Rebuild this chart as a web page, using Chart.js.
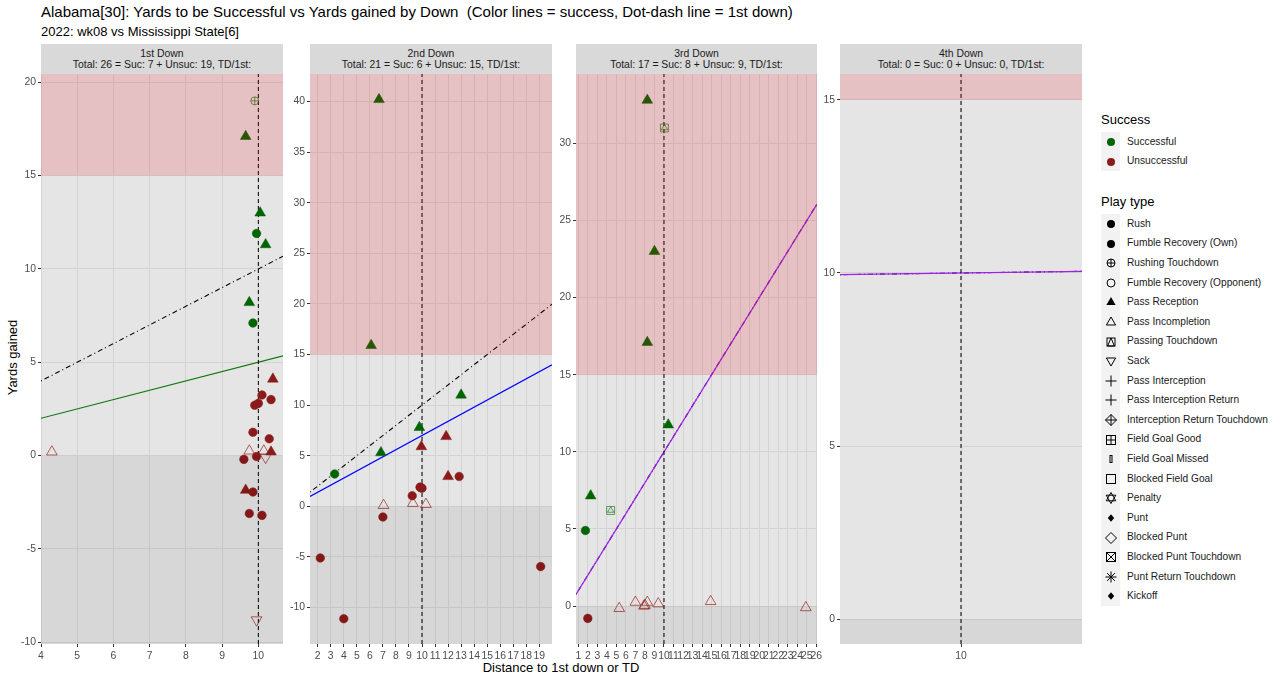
<!DOCTYPE html>
<html>
<head>
<meta charset="utf-8">
<script src="https://cdn.jsdelivr.net/npm/chart.js@4.4.0/dist/chart.umd.min.js"></script>
<style>
  body { margin: 0; background: #fff; font-family: "Liberation Sans", Arial, sans-serif; }
  #page { position: relative; width: 1280px; height: 681px; overflow: hidden; }
  .abs { position: absolute; white-space: nowrap; }
  .strip { background: #d9d9d9; color: #1a1a1a; font-size: 10.4px; line-height: 10.5px; text-align: center; box-sizing: border-box; padding-top: 5px; }
  .lgTitle { font-size: 13px; color: #000; }
  .lgText { font-size: 10.2px; color: #1a1a1a; }
  .lgKey { background: #f2f2f2; }
</style>
</head>
<body>
<div id="page">
  <div class="abs" style="left:41px;top:3px;font-size:15px;color:#000;">Alabama[30]: Yards to be Successful vs Yards gained by Down&nbsp; (Color lines = success, Dot-dash line = 1st down)</div>
  <div class="abs" style="left:41px;top:24px;font-size:13px;color:#000;">2022: wk08 vs Mississippi State[6]</div>
  <div class="abs" style="left:-28px;top:350px;width:80px;text-align:center;font-size:13px;transform:rotate(-90deg);">Yards gained</div>
  <div class="abs" style="left:361px;top:660px;width:400px;text-align:center;font-size:13px;">Distance to 1st down or TD</div>
</div>
<script>
// ---- data ----
const downNames = ['1st Down', '2nd Down', '3rd Down', '4th Down'];
const downTotals = [
  'Total: 26 = Suc: 7 + Unsuc: 19, TD/1st:',
  'Total: 21 = Suc: 6 + Unsuc: 15, TD/1st:',
  'Total: 17 = Suc: 8 + Unsuc: 9, TD/1st:',
  'Total: 0 = Suc: 0 + Unsuc: 0, TD/1st:'
];

// [distance to go, yards gained, successful (1/0), play type]
const plays1st = [
  [9.9, 19.0, 1, 'Rushing Touchdown'],
  [9.65, 17.1, 1, 'Pass Reception'],
  [10.05, 13.0, 1, 'Pass Reception'],
  [9.95, 11.9, 1, 'Rush'],
  [10.2, 11.3, 1, 'Pass Reception'],
  [9.75, 8.2, 1, 'Pass Reception'],
  [9.85, 7.1, 1, 'Rush'],
  [10.4, 4.1, 0, 'Pass Reception'],
  [10.1, 3.25, 0, 'Rush'],
  [10.35, 3.0, 0, 'Rush'],
  [9.9, 2.7, 0, 'Rush'],
  [10.0, 2.8, 0, 'Rush'],
  [9.85, 1.25, 0, 'Rush'],
  [10.3, 0.9, 0, 'Rush'],
  [4.3, 0.2, 0, 'Pass Incompletion'],
  [9.75, 0.25, 0, 'Pass Incompletion'],
  [10.15, 0.25, 0, 'Pass Incompletion'],
  [10.35, 0.2, 0, 'Pass Reception'],
  [10.2, -0.1, 0, 'Sack'],
  [9.6, -0.2, 0, 'Rush'],
  [9.95, -0.05, 0, 'Rush'],
  [9.65, -1.85, 0, 'Pass Reception'],
  [9.85, -1.95, 0, 'Rush'],
  [9.75, -3.1, 0, 'Rush'],
  [10.1, -3.2, 0, 'Rush'],
  [9.95, -8.8, 0, 'Sack']
];
const plays2nd = [
  [6.7, 40.2, 1, 'Pass Reception'],
  [6.1, 15.9, 1, 'Pass Reception'],
  [13.0, 11.0, 1, 'Pass Reception'],
  [9.8, 7.8, 1, 'Pass Reception'],
  [6.85, 5.3, 1, 'Pass Reception'],
  [3.3, 3.2, 1, 'Rush'],
  [11.85, 6.9, 0, 'Pass Reception'],
  [9.95, 5.9, 0, 'Pass Reception'],
  [12.0, 2.95, 0, 'Pass Reception'],
  [12.85, 2.95, 0, 'Rush'],
  [9.25, 1.05, 0, 'Rush'],
  [9.85, 1.9, 0, 'Rush'],
  [10.0, 1.8, 0, 'Rush'],
  [9.9, 1.85, 0, 'Rush'],
  [7.05, 0.1, 0, 'Pass Incompletion'],
  [9.3, 0.3, 0, 'Pass Incompletion'],
  [10.3, 0.2, 0, 'Pass Incompletion'],
  [7.0, -1.05, 0, 'Rush'],
  [2.2, -5.1, 0, 'Rush'],
  [4.0, -11.1, 0, 'Rush'],
  [19.1, -5.95, 0, 'Rush']
];
const plays3rd = [
  [8.25, 32.8, 1, 'Pass Reception'],
  [10.05, 31.0, 1, 'Passing Touchdown'],
  [9.0, 23.0, 1, 'Pass Reception'],
  [8.25, 17.1, 1, 'Pass Reception'],
  [10.45, 11.75, 1, 'Pass Reception'],
  [2.3, 7.15, 1, 'Pass Reception'],
  [4.4, 6.2, 1, 'Passing Touchdown'],
  [1.75, 4.9, 1, 'Rush'],
  [2.0, -0.8, 0, 'Rush'],
  [5.3, -0.15, 0, 'Pass Incompletion'],
  [7.0, 0.25, 0, 'Pass Incompletion'],
  [8.0, 0.05, 0, 'Pass Incompletion'],
  [7.9, 0.0, 0, 'Pass Incompletion'],
  [8.25, 0.25, 0, 'Pass Incompletion'],
  [9.4, 0.15, 0, 'Pass Incompletion'],
  [14.9, 0.3, 0, 'Pass Incompletion'],
  [24.9, -0.1, 0, 'Pass Incompletion']
];
const plays4th = [];

// yards needed = rate * distance
const successRates = [0.5, 0.7, 1.0, 1.0];
const firstDownDistance = 10;
const bigPlayYards = 15;

const xTicks = [
  [4, 5, 6, 7, 8, 9, 10],
  [2, 3, 4, 5, 6, 7, 8, 9, 10, 11, 12, 13, 14, 15, 16, 17, 18, 19],
  [1, 2, 3, 4, 5, 6, 7, 8, 9, 10, 11, 12, 13, 14, 15, 16, 17, 18, 19, 20, 21, 22, 23, 24, 25, 26],
  [10]
];
const yTicks = [
  [-10, -5, 0, 5, 10, 15, 20],
  [-10, -5, 0, 5, 10, 15, 20, 25, 30, 35, 40],
  [0, 5, 10, 15, 20, 25, 30],
  [0, 5, 10, 15]
];
const xLimits = [[4, 10.68], [1.41, 19.97], [0.76, 26.07], [9.952, 10.048]];
const yLimits = [[-10.09, 20.44], [-13.6, 42.72], [-2.46, 34.5], [-0.72, 15.75]];

const legendSuccess = ['Successful', 'Unsuccessful'];
const legendPlayTypes = ['Rush', 'Fumble Recovery (Own)', 'Rushing Touchdown', 'Fumble Recovery (Opponent)',
  'Pass Reception', 'Pass Incompletion', 'Passing Touchdown', 'Sack', 'Pass Interception',
  'Pass Interception Return', 'Interception Return Touchdown', 'Field Goal Good', 'Field Goal Missed',
  'Blocked Field Goal', 'Penalty', 'Punt', 'Blocked Punt', 'Blocked Punt Touchdown',
  'Punt Return Touchdown', 'Kickoff'];
const legendShapes = ['dot', 'dot', 'circlePlus', 'circle', 'tri', 'triOpen', 'squareTri', 'triDown', 'plus',
  'plus', 'diamondPlus', 'squarePlus', 'narrow', 'square', 'star6', 'diamondSmall', 'diamondOpen',
  'squareX', 'asterisk', 'diamondSmall'];

// ---- styling / layout ----
const allPlays = [plays1st, plays2nd, plays3rd, plays4th];
const lineColors = ['#117a11', '#0000ff', '#a020f0', '#a020f0'];
const sucColor = '#006400', unsucColor = '#8b1a1a';
const sucHollow = 'rgba(0,100,0,0.6)', unsucHollow = 'rgba(150,20,20,0.65)';
const panelBoxes = [
  { l: 41, r: 283, t: 74, b: 644 },
  { l: 310, r: 552, t: 74, b: 644 },
  { l: 576, r: 817, t: 74, b: 644 },
  { l: 840, r: 1082, t: 74, b: 644 }
];
const PADL = 45, PADT = 12, PADR = 14, PADB = 30;

const shapeSpec = {
  'Rush': [{ style: 'circle', r: 4.3, fill: true }],
  'Pass Reception': [{ style: 'triangle', r: 6.2, fill: true }],
  'Pass Incompletion': [{ style: 'triangle', r: 6.2, fill: false }],
  'Sack': [{ style: 'triangle', r: 6.2, fill: false, rot: 180 }],
  'Rushing Touchdown': [{ style: 'circle', r: 4, fill: false }, { style: 'cross', r: 4, fill: false }],
  'Passing Touchdown': [{ style: 'rect', r: 5.6, fill: false }, { style: 'triangle', r: 3.6, fill: false }]
};

Chart.defaults.font.family = '"Liberation Sans", Arial, sans-serif';

const bandPlugin = {
  id: 'bands',
  beforeDraw(chart) {
    const { ctx, chartArea: a } = chart;
    ctx.save();
    ctx.fillStyle = '#e5e5e5';
    ctx.fillRect(a.left, a.top, a.width, a.height);
    ctx.restore();
  },
  afterDatasetsDraw(chart) {
    const { ctx, chartArea: a } = chart;
    const y = chart.scales.y;
    const yBig = Math.max(a.top, y.getPixelForValue(bigPlayYards));
    const yZero = Math.min(a.bottom, y.getPixelForValue(0));
    ctx.save();
    ctx.beginPath();
    ctx.rect(a.left, a.top, a.width, a.height);
    ctx.clip();
    ctx.fillStyle = 'rgba(240,20,30,0.17)';
    ctx.fillRect(a.left, a.top, a.width, yBig - a.top);
    ctx.fillStyle = 'rgba(0,0,0,0.06)';
    ctx.fillRect(a.left, yZero, a.width, a.bottom - yZero);
    ctx.restore();
  }
};

const page = document.getElementById('page');

function buildPanel(i) {
  const box = panelBoxes[i];
  const plays = allPlays[i];
  const [xmin, xmax] = xLimits[i];
  const [ymin, ymax] = yLimits[i];

  const strip = document.createElement('div');
  strip.className = 'abs strip';
  strip.style.left = box.l + 'px';
  strip.style.top = (box.t - 30) + 'px';
  strip.style.width = (box.r - box.l) + 'px';
  strip.style.height = '30px';
  strip.innerHTML = downNames[i] + '<br>' + downTotals[i];
  page.appendChild(strip);

  const w = box.r - box.l + PADL + PADR;
  const h = box.b - box.t + PADT + PADB;
  const canvas = document.createElement('canvas');
  canvas.width = w;
  canvas.height = h;
  canvas.className = 'abs';
  canvas.style.left = (box.l - PADL) + 'px';
  canvas.style.top = (box.t - PADT) + 'px';
  canvas.style.width = w + 'px';
  canvas.style.height = h + 'px';
  page.appendChild(canvas);

  const datasets = [];
  // play markers, grouped by type and success
  Object.keys(shapeSpec).forEach(type => {
    [1, 0].forEach(suc => {
      const pts = plays.filter(p => p[3] === type && p[2] === suc).map(p => ({ x: p[0], y: p[1] }));
      if (!pts.length) return;
      shapeSpec[type].forEach(sp => {
        const solid = suc ? sucColor : unsucColor;
        const hollow = suc ? sucHollow : unsucHollow;
        datasets.push({
          data: pts,
          pointStyle: sp.style,
          pointRadius: sp.r,
          pointRotation: sp.rot || 0,
          pointBackgroundColor: sp.fill ? solid : 'rgba(0,0,0,0)',
          pointBorderColor: sp.fill ? solid : hollow,
          pointBorderWidth: sp.fill ? 0.5 : 1,
          order: 0
        });
      });
    });
  });
  // success line
  datasets.push({
    data: [{ x: xmin, y: successRates[i] * xmin }, { x: xmax, y: successRates[i] * xmax }],
    showLine: true, pointRadius: 0, borderColor: lineColors[i], borderWidth: 1.2, order: 2
  });
  // 1st down line (dot-dash)
  datasets.push({
    data: [{ x: xmin, y: xmin }, { x: xmax, y: xmax }],
    showLine: true, pointRadius: 0, borderColor: '#000', borderWidth: 1.1,
    borderDash: [1, 3, 5, 3], order: 3
  });
  // distance reference (dashed)
  datasets.push({
    data: [{ x: firstDownDistance, y: ymin }, { x: firstDownDistance, y: ymax }],
    showLine: true, pointRadius: 0, borderColor: '#111', borderWidth: 1.1,
    borderDash: [4, 3], order: 1
  });

  const tickFont = { size: 10.4 };
  new Chart(canvas.getContext('2d'), {
    type: 'scatter',
    data: { datasets },
    options: {
      responsive: false,
      animation: false,
      events: [],
      layout: { padding: { top: PADT, right: PADR, left: 0, bottom: 0 } },
      plugins: { legend: { display: false }, tooltip: { enabled: false } },
      scales: {
        x: {
          type: 'linear', min: xmin, max: xmax,
          afterBuildTicks: s => { s.ticks = xTicks[i].map(v => ({ value: v })); },
          afterFit: s => { s.height = PADB; },
          ticks: { autoSkip: false, maxRotation: 0, minRotation: 0, color: '#4d4d4d', font: tickFont, padding: 3 },
          grid: { color: '#d3d3d3', lineWidth: 1, tickLength: 3, tickColor: '#333' },
          border: { display: false }
        },
        y: {
          type: 'linear', min: ymin, max: ymax,
          afterBuildTicks: s => { s.ticks = yTicks[i].map(v => ({ value: v })); },
          afterFit: s => { s.width = PADL; },
          ticks: { autoSkip: false, color: '#4d4d4d', font: tickFont, padding: 2 },
          grid: { color: '#d3d3d3', lineWidth: 1, tickLength: 3, tickColor: '#333' },
          border: { display: false }
        }
      }
    },
    plugins: [bandPlugin]
  });
}

for (let i = 0; i < 4; i++) buildPanel(i);

// ---- legend ----
function keySvg(kind, c) {
  const st = `fill="none" stroke="${c}" stroke-width="1"`;
  const tri = 'M0 -5L4.6 3L-4.6 3Z';
  let inner = '';
  switch (kind) {
    case 'dot': inner = `<circle r="4" fill="${c}"/>`; break;
    case 'circlePlus': inner = `<circle r="4" ${st}/><path d="M-4 0H4M0 -4V4" ${st}/>`; break;
    case 'circle': inner = `<circle r="4" ${st}/>`; break;
    case 'tri': inner = `<path d="${tri}" fill="${c}"/>`; break;
    case 'triOpen': inner = `<path d="${tri}" ${st}/>`; break;
    case 'squareTri': inner = `<rect x="-4" y="-4" width="8" height="8" ${st}/><path d="M0 -4L3.4 4L-3.4 4Z" ${st}/>`; break;
    case 'triDown': inner = `<path d="M0 5L4.6 -3L-4.6 -3Z" ${st}/>`; break;
    case 'plus': inner = `<path d="M-5.5 0H5.5M0 -5.5V5.5" ${st}/>`; break;
    case 'diamondPlus': inner = `<path d="M0 -5.5L5.5 0L0 5.5L-5.5 0ZM-5.5 0H5.5M0 -5.5V5.5" ${st}/>`; break;
    case 'squarePlus': inner = `<rect x="-4.5" y="-4.5" width="9" height="9" ${st}/><path d="M-4.5 0H4.5M0 -4.5V4.5" ${st}/>`; break;
    case 'narrow': inner = `<rect x="-1" y="-3.5" width="2" height="7" ${st}/>`; break;
    case 'square': inner = `<rect x="-4.5" y="-4.5" width="9" height="9" ${st}/>`; break;
    case 'star6': inner = `<path d="M0 -5.5L4.8 2.8L-4.8 2.8ZM0 5.5L4.8 -2.8L-4.8 -2.8Z" ${st}/>`; break;
    case 'diamondSmall': inner = `<path d="M0 -3.8L3.2 0L0 3.8L-3.2 0Z" fill="${c}"/>`; break;
    case 'diamondOpen': inner = `<path d="M0 -5.5L5.5 0L0 5.5L-5.5 0Z" ${st}/>`; break;
    case 'squareX': inner = `<rect x="-4.5" y="-4.5" width="9" height="9" ${st}/><path d="M-4.5 -4.5L4.5 4.5M4.5 -4.5L-4.5 4.5" ${st}/>`; break;
    case 'asterisk': inner = `<path d="M-5.5 0H5.5M0 -5.5V5.5M-3.9 -3.9L3.9 3.9M3.9 -3.9L-3.9 3.9" ${st}/>`; break;
  }
  return `<svg width="14" height="14" viewBox="-7 -7 14 14" style="display:block">${inner}</svg>`;
}

function addDiv(cls, left, top, html, extra) {
  const d = document.createElement('div');
  d.className = 'abs ' + cls;
  d.style.left = left + 'px';
  d.style.top = top + 'px';
  if (extra) Object.assign(d.style, extra);
  d.innerHTML = html;
  page.appendChild(d);
  return d;
}

addDiv('lgTitle', 1101, 112, 'Success');
addDiv('lgKey', 1101, 132, '', { width: '19px', height: '39px' });
legendSuccess.forEach((lab, k) => {
  const cy = 142.3 + k * 19.4;
  addDiv('', 1104, cy - 7, keySvg('dot', k === 0 ? sucColor : unsucColor));
  addDiv('lgText', 1127, cy - 6.3, lab);
});

addDiv('lgTitle', 1101, 194, 'Play type');
addDiv('lgKey', 1101, 214, '', { width: '19px', height: '392px' });
legendPlayTypes.forEach((lab, k) => {
  const cy = 224 + k * 19.6;
  addDiv('', 1104, cy - 7, keySvg(legendShapes[k], '#000'));
  addDiv('lgText', 1127, cy - 6.3, lab);
});
</script>
</body>
</html>
